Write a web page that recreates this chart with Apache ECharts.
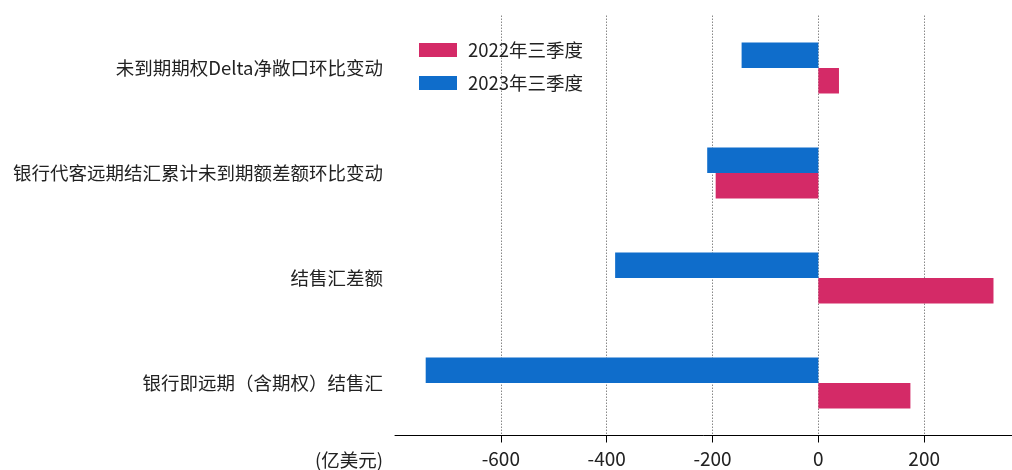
<!DOCTYPE html>
<html>
<head>
<meta charset="utf-8">
<script src="https://cdn.jsdelivr.net/npm/echarts@6/dist/echarts.min.js"></script>
<style>html,body{margin:0;padding:0;background:#fff;}#c{width:1012px;height:470px;}</style>
</head>
<body>
<div id="c"></div>
<script>
const categories = ['未到期期权Delta净敞口环比变动', '银行代客远期结汇累计未到期额差额环比变动', '结售汇差额', '银行即远期（含期权）结售汇'];
const seriesNames = ['2022年三季度', '2023年三季度'];
const values2022 = [39, -194, 331, 174];
const values2023 = [-145, -210, -384, -742];
const unitLabel = '(亿美元)';

const FONT = '"Noto Sans CJK SC", "Noto Sans", sans-serif';
const RED = '#D42A67';
const BLUE = '#0F6DCB';

const chart = echarts.init(document.getElementById('c'), null, {renderer: 'canvas'});
chart.setOption({
  animation: false,
  backgroundColor: '#fff',
  textStyle: {fontFamily: FONT},
  legend: {
    orient: 'vertical',
    left: 414,
    top: 35,
    itemWidth: 38,
    itemHeight: 14,
    itemGap: 13,
    icon: 'rect',
    data: seriesNames,
    textStyle: {fontFamily: FONT, fontSize: 18.5, color: '#222', lineHeight: 20, padding: [0, 0, 0, 6]}
  },
  grid: {left: 395, top: 15.5, right: -18, bottom: 34.5, outerBoundsMode: 'none', containLabel: false},
  xAxis: {
    type: 'value',
    min: -800,
    max: 400,
    interval: 200,
    axisLine: {show: true, lineStyle: {color: '#000', width: 1}},
    axisTick: {show: true, length: 7, lineStyle: {color: '#000'}},
    axisLabel: {showMinLabel: false, showMaxLabel: false, margin: 14, fontSize: 19, color: '#222', fontFamily: FONT},
    splitLine: {show: true, showMinLine: false, showMaxLine: false, lineStyle: {color: '#888', type: [1.5, 1.5], width: 1}}
  },
  yAxis: {
    type: 'category',
    inverse: true,
    data: categories,
    axisLine: {show: false},
    axisTick: {show: false},
    axisLabel: {margin: 12, fontSize: 18.5, color: '#222', fontFamily: FONT},
    splitLine: {show: false}
  },
  graphic: [{
    type: 'text',
    right: 1012 - 383,
    top: 451,
    style: {text: unitLabel, fontSize: 18.5, fill: '#222', fontFamily: FONT}
  }],
  series: [
    {name: seriesNames[1], type: 'bar', data: values2023, barWidth: 25.5, barGap: '0%', itemStyle: {color: BLUE}},
    {name: seriesNames[0], type: 'bar', data: values2022, barWidth: 25.5, barGap: '0%', itemStyle: {color: RED}}
  ]
});
</script>
</body>
</html>
